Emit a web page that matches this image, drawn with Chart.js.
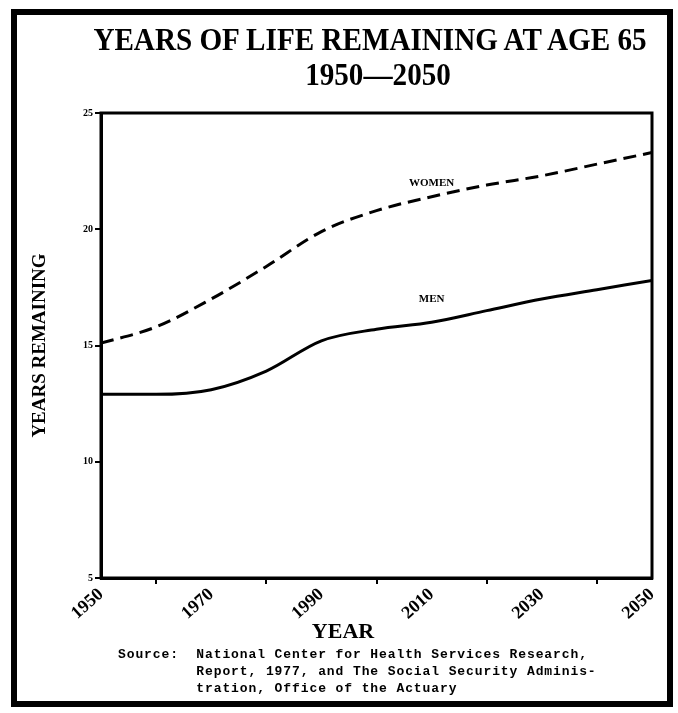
<!DOCTYPE html>
<html>
<head>
<meta charset="utf-8">
<script src="https://cdn.jsdelivr.net/npm/chart.js@4"></script>
<style>
  body { margin: 0; background: #fff; }
  #wrap { position: relative; width: 678px; height: 713px; }
  #frame { position: absolute; left: 11px; top: 9px; width: 650px; height: 686px; border: 6px solid #000; pointer-events: none; }
  .title { position: absolute; left: 60px; width: 620px; text-align: center; font-family: "Liberation Serif", serif; font-weight: bold; color: #000; white-space: nowrap; }
  #xtitle { position: absolute; left: 243px; width: 200px; top: 618px; text-align: center; font-family: "Liberation Serif", serif; font-weight: bold; font-size: 22px; color: #000; }
  #source { position: absolute; left: 118px; top: 646px; font-family: "Liberation Mono", monospace; font-weight: bold; font-size: 13px; line-height: 17px; color: #000; white-space: pre; letter-spacing: 0.9px; }
</style>
</head>
<body>
<div id="wrap">
  <canvas id="chart" width="678" height="713"></canvas>
  <div class="title" style="top:22px;font-size:31px;transform:scaleX(0.94);">YEARS OF LIFE REMAINING AT AGE 65</div>
  <div class="title" style="top:57px;font-size:31px;left:68px;transform:scaleX(0.94);">1950—2050</div>
  <div id="xtitle">YEAR</div>
  <div id="source">Source:  National Center for Health Services Research,
         Report, 1977, and The Social Security Adminis-
         tration, Office of the Actuary</div>
  <div id="frame"></div>
</div>
<script>
const years = [1950, 1960, 1970, 1980, 1990, 2000, 2010, 2020, 2030, 2040, 2050];
const women = [15.1, 15.8, 17.0, 18.4, 19.9, 20.8, 21.4, 21.9, 22.3, 22.8, 23.3];
const men   = [12.9, 12.9, 13.1, 13.9, 15.2, 15.7, 16.0, 16.5, 17.0, 17.4, 17.8];
const yTicks = [5, 10, 15, 20, 25];

// labels that sit on the lines
const lineLabels = [
  { text: 'WOMEN', x: 2010, y: 22.0 },
  { text: 'MEN', x: 2010, y: 17.0 }
];

const serif = '"Liberation Serif", serif';

const boxPlugin = {
  id: 'box',
  afterDraw(chart) {
    const { ctx, chartArea: a, scales } = chart;
    ctx.save();
    ctx.strokeStyle = '#000';
    ctx.lineWidth = 3;
    ctx.strokeRect(a.left, a.top, a.right - a.left, a.bottom - a.top);
    ctx.font = 'bold 11px ' + serif;
    ctx.textAlign = 'center';
    ctx.textBaseline = 'middle';
    ctx.fillStyle = '#000';
    lineLabels.forEach(l => {
      ctx.fillText(l.text, scales.x.getPixelForValue(l.x), scales.y.getPixelForValue(l.y));
    });
    ctx.restore();
  }
};

new Chart(document.getElementById('chart'), {
  type: 'line',
  data: {
    datasets: [{
      label: 'Women',
      data: years.map((x, i) => ({ x, y: women[i] })),
      borderColor: '#000',
      borderWidth: 3,
      borderDash: [13, 7],
      pointRadius: 0,
      cubicInterpolationMode: 'monotone'
    }, {
      label: 'Men',
      data: years.map((x, i) => ({ x, y: men[i] })),
      borderColor: '#000',
      borderWidth: 3,
      pointRadius: 0,
      cubicInterpolationMode: 'monotone'
    }]
  },
  options: {
    responsive: false,
    animation: false,
    layout: { padding: { left: 28, top: 113, right: 26, bottom: 65 } },
    plugins: { legend: { display: false }, tooltip: { enabled: false } },
    scales: {
      x: {
        type: 'linear',
        min: 1950, max: 2050,
        afterFit(s) { s.height = 70; },
        border: { color: '#000', width: 3 },
        grid: {
          drawOnChartArea: false,
          tickLength: 6,
          lineWidth: 2,
          color: c => (c.tick && (c.tick.value - 1950) % 20 === 10) ? '#000' : 'rgba(0,0,0,0)'
        },
        ticks: {
          stepSize: 10,
          autoSkip: false,
          maxRotation: 42, minRotation: 42,
          padding: 0,
          color: '#000',
          font: { family: serif, size: 18, weight: 'bold' },
          callback: v => ((v - 1950) % 20 === 0 ? String(v) : '')
        }
      },
      y: {
        min: 5, max: 25,
        afterFit(s) { s.width = 73; },
        afterBuildTicks(s) { s.ticks = yTicks.map(v => ({ value: v })); },
        border: { color: '#000', width: 3 },
        grid: { drawOnChartArea: false, tickLength: 6, lineWidth: 2, color: '#000' },
        ticks: {
          padding: 2,
          color: '#000',
          font: { family: serif, size: 10, weight: 'bold' }
        },
        title: {
          display: true, text: 'YEARS REMAINING', color: '#000',
          font: { family: serif, size: 19, weight: 'bold' },
          padding: { top: 1, bottom: 0 }
        }
      }
    }
  },
  plugins: [boxPlugin]
});
</script>
</body>
</html>
